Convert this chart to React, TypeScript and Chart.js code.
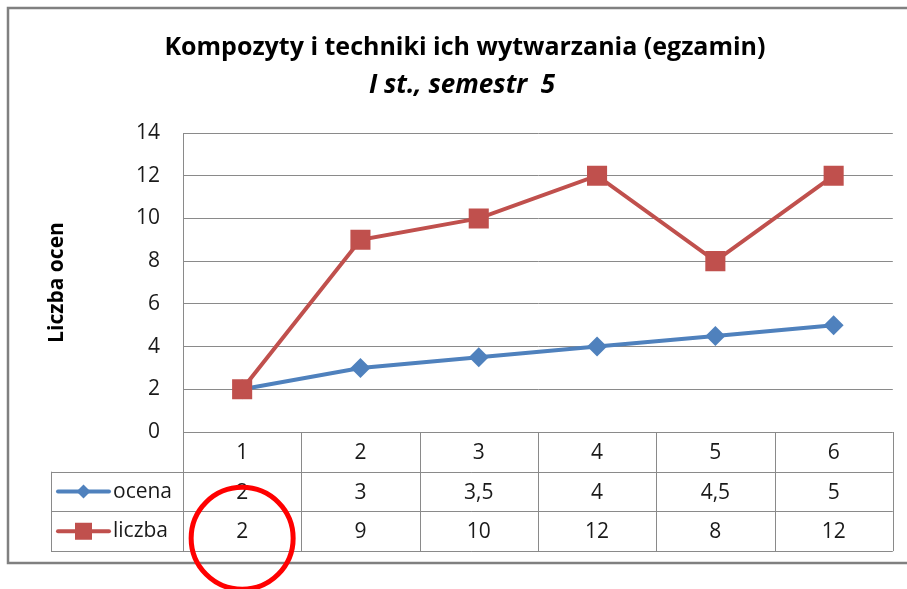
import React, { useEffect, useRef } from "react";
import { Chart, registerables } from "chart.js";

Chart.register(...registerables);

const TITLE = "Kompozyty i techniki ich wytwarzania (egzamin)";
const SUBTITLE = "I st., semestr  5";
const Y_TITLE = "Liczba ocen";
const categories = ["1", "2", "3", "4", "5", "6"];
const seriesNames = ["ocena", "liczba"];
const ocena = [2, 3, 3.5, 4, 4.5, 5];
const liczba = [2, 9, 10, 12, 8, 12];
const yMin = 0;
const yMax = 14;
const yStep = 2;

const BLUE = "#4F81BD";
const RED = "#C0504D";
const GRID = "#8a8a8a";
const FONT = "'Open Sans', sans-serif";

const fmt = (v: number) => String(v).replace(".", ",");

const tablePlugin = {
  id: "excelTable",
  afterDraw(chart: any) {
    const ctx = chart.ctx as CanvasRenderingContext2D;
    const area = chart.chartArea;
    const xs = chart.scales.x;
    const n = categories.length;
    const colW = (area.right - area.left) / n;
    const rowH = 39.7;
    const top = area.bottom;
    const legendLeft = 51;
    ctx.save();

    // table grid
    ctx.strokeStyle = GRID;
    ctx.lineWidth = 1;
    const hl = (x1: number, x2: number, y: number) => {
      ctx.beginPath();
      ctx.moveTo(x1, Math.round(y) + 0.5);
      ctx.lineTo(x2, Math.round(y) + 0.5);
      ctx.stroke();
    };
    const vl = (x: number, y1: number, y2: number) => {
      ctx.beginPath();
      ctx.moveTo(Math.round(x) + 0.5, y1);
      ctx.lineTo(Math.round(x) + 0.5, y2);
      ctx.stroke();
    };
    for (let r = 1; r <= 3; r++) hl(legendLeft, area.right, top + r * rowH);
    for (let c = 0; c <= n; c++) vl(area.left + c * colW, top, top + 3 * rowH);
    vl(legendLeft, top + rowH, top + 3 * rowH);

    // cell texts
    ctx.fillStyle = "#1a1a1a";
    ctx.font = `21px ${FONT}`;
    ctx.textAlign = "center";
    ctx.textBaseline = "middle";
    const rows = [categories, ocena.map(fmt), liczba.map(fmt)];
    rows.forEach((row, r) => {
      row.forEach((t, i) => {
        ctx.fillText(t, xs.getPixelForValue(i), top + r * rowH + rowH / 2 + 1);
      });
    });

    // legend keys
    const keys = [
      { color: BLUE, style: "diamond" },
      { color: RED, style: "square" },
    ];
    keys.forEach((k, i) => {
      const y = top + (i + 1) * rowH + rowH / 2;
      ctx.strokeStyle = k.color;
      ctx.fillStyle = k.color;
      ctx.lineWidth = 4;
      ctx.lineCap = "round";
      ctx.beginPath();
      ctx.moveTo(58, y);
      ctx.lineTo(109, y);
      ctx.stroke();
      const cx = 83.5;
      if (k.style === "diamond") {
        ctx.beginPath();
        ctx.moveTo(cx, y - 7);
        ctx.lineTo(cx + 7, y);
        ctx.lineTo(cx, y + 7);
        ctx.lineTo(cx - 7, y);
        ctx.closePath();
        ctx.fill();
      } else {
        ctx.fillRect(cx - 8.5, y - 8.5, 17, 17);
      }
      ctx.fillStyle = "#1a1a1a";
      ctx.font = `21px ${FONT}`;
      ctx.textAlign = "left";
      ctx.textBaseline = "middle";
      ctx.fillText(seriesNames[i], 113, y);
    });

    // titles
    ctx.fillStyle = "#000";
    ctx.textAlign = "center";
    ctx.textBaseline = "middle";
    ctx.font = `bold 25px ${FONT}`;
    ctx.fillText(TITLE, 465, 48);
    ctx.font = `italic bold 26px ${FONT}`;
    ctx.fillText(SUBTITLE, 462, 86);

    // y axis title
    ctx.save();
    ctx.translate(57, (area.top + area.bottom) / 2);
    ctx.rotate(-Math.PI / 2);
    ctx.font = `bold 21px ${FONT}`;
    ctx.fillText(Y_TITLE, 0, 0);
    ctx.restore();

    // outer border
    ctx.strokeStyle = "#808080";
    ctx.lineWidth = 2.5;
    ctx.strokeRect(8, 8, 910, 555);

    // red circle annotation around first liczba cell
    ctx.strokeStyle = "#FF0000";
    ctx.lineWidth = 5;
    ctx.beginPath();
    ctx.arc(xs.getPixelForValue(0), top + 2.5 * rowH + 7, 51, 0, Math.PI * 2);
    ctx.stroke();

    ctx.restore();
  },
};

export default function App() {
  const ref = useRef<HTMLCanvasElement | null>(null);
  useEffect(() => {
    if (!ref.current) return;
    const chart = new Chart(ref.current, {
      type: "line",
      data: {
        labels: categories,
        datasets: [
          {
            label: seriesNames[0],
            data: ocena,
            borderColor: BLUE,
            backgroundColor: BLUE,
            borderWidth: 4,
            pointStyle: "rectRot",
            pointRadius: 10,
            pointBorderWidth: 0,
            pointBackgroundColor: BLUE,
            order: 1,
          },
          {
            label: seriesNames[1],
            data: liczba,
            borderColor: RED,
            backgroundColor: RED,
            borderWidth: 4,
            pointStyle: "rect",
            pointRadius: 14.2,
            pointBorderWidth: 0,
            pointBackgroundColor: RED,
            order: 0,
          },
        ],
      },
      options: {
        responsive: false,
        animation: false,
        layout: { padding: { left: 40, top: 133, right: 13, bottom: 157 } },
        plugins: {
          legend: { display: false },
          title: { display: false },
          tooltip: { enabled: false },
        },
        scales: {
          x: { display: false, offset: true },
          y: {
            min: yMin,
            max: yMax,
            ticks: {
              stepSize: yStep,
              padding: 23,
              color: "#1a1a1a",
              font: { family: FONT, size: 21 },
            },
            grid: { color: GRID, lineWidth: 1, drawTicks: false },
            border: { display: true, color: GRID, width: 1 },
            afterFit: (scale: any) => {
              scale.width = 143;
            },
          },
        },
      },
      plugins: [tablePlugin],
    } as any);
    return () => chart.destroy();
  }, []);
  return (
    <div style={{ position: "fixed", left: 0, top: 0, width: 907, height: 589, background: "#fff" }}>
      <canvas ref={ref} width={907} height={589} />
    </div>
  );
}
